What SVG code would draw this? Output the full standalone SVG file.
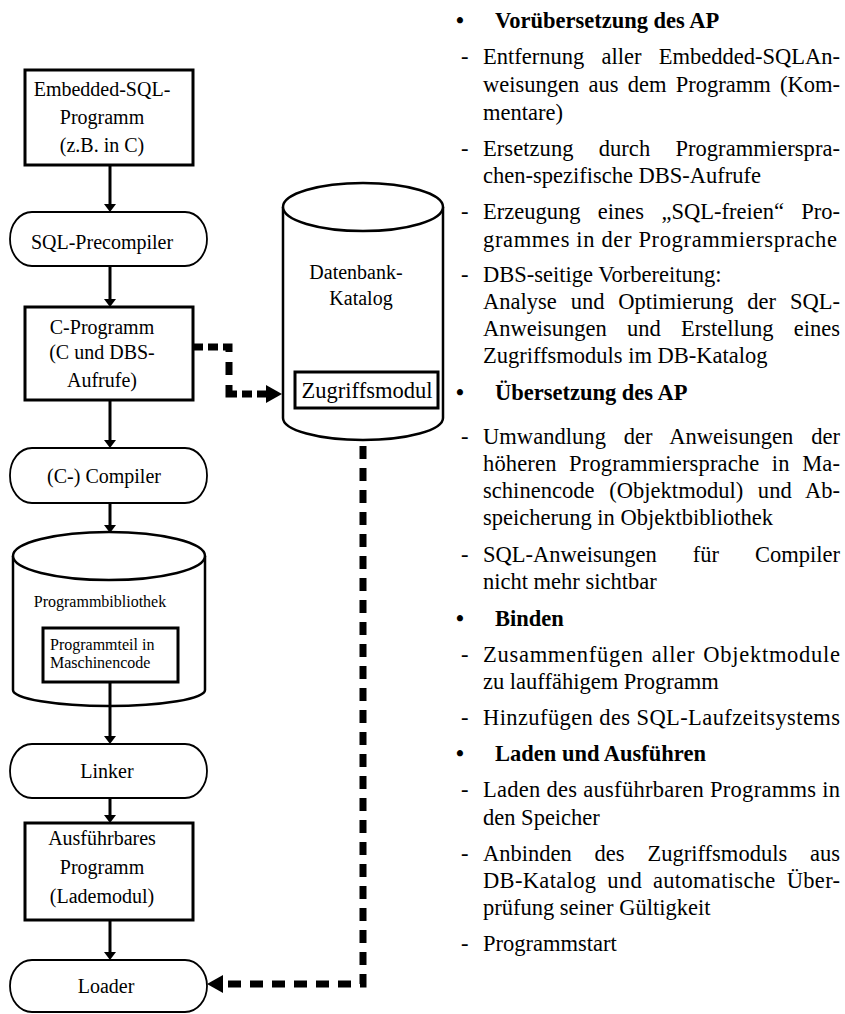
<svg xmlns="http://www.w3.org/2000/svg" width="845" height="1014" viewBox="0 0 845 1014">
  <style>
    text { font-family: "Liberation Serif", "Times New Roman", serif; fill: #000; }
    .lbl { font-size: 20px; text-anchor: middle; }
    .sm { font-size: 16px; }
    .box { fill: #fff; stroke: #000; stroke-width: 3; }
    .term { fill: #fff; stroke: #000; stroke-width: 1.8; }
    .cyl { fill: #fff; stroke: #000; stroke-width: 2.5; }
    .flow { fill: none; stroke: #000; stroke-width: 3; marker-end: url(#tip); }
    .dash { fill: none; stroke: #000; stroke-width: 7; marker-end: url(#tipBig); }
    .body { font-size: 22.5px; }
    .head { font-size: 22.5px; font-weight: bold; }
  </style>
  <defs>
    <marker id="tip" viewBox="0 0 8 12" refX="0" refY="6" markerWidth="8" markerHeight="12" orient="auto" markerUnits="userSpaceOnUse">
      <path d="M0,0 L8,6 L0,12 Z" fill="#000"/>
    </marker>
    <marker id="tipBig" viewBox="0 0 16 18" refX="0" refY="9" markerWidth="16" markerHeight="18" orient="auto" markerUnits="userSpaceOnUse">
      <path d="M0,0 L16,9 L0,18 Z" fill="#000"/>
    </marker>
  </defs>
  <rect width="845" height="1014" fill="#fff"/>

  <!-- processing chain -->
  <g id="n-embedded">
    <rect class="box" x="25" y="70" width="168" height="95"/>
    <text class="lbl" x="102" y="96">Embedded-SQL-</text>
    <text class="lbl" x="102" y="124">Programm</text>
    <text class="lbl" x="102" y="152">(z.B. in C)</text>
  </g>
  <g id="n-precompiler">
    <rect class="term" x="10" y="212" width="197" height="54" rx="22" ry="27"/>
    <text class="lbl" x="102" y="249">SQL-Precompiler</text>
  </g>
  <g id="n-cprogramm">
    <rect class="box" x="25" y="307" width="168" height="93"/>
    <text class="lbl" x="102" y="334">C-Programm</text>
    <text class="lbl" x="102" y="359">(C und DBS-</text>
    <text class="lbl" x="102" y="387">Aufrufe)</text>
  </g>
  <g id="n-compiler">
    <rect class="term" x="10" y="448" width="197" height="55" rx="22" ry="27"/>
    <text class="lbl" x="104" y="483">(C-) Compiler</text>
  </g>
  <g id="n-bibliothek">
    <path class="cyl" d="M13,556 V690 A96,16 0 0 0 205,690 V556"/>
    <ellipse class="cyl" cx="109" cy="556" rx="96" ry="24"/>
    <text class="sm" x="100" y="607" text-anchor="middle">Programmbibliothek</text>
    <rect class="box" x="43" y="628" width="135" height="54"/>
    <text class="sm" x="50" y="650">Programmteil in</text>
    <text class="sm" x="50" y="668">Maschinencode</text>
  </g>
  <g id="n-linker">
    <rect class="term" x="10" y="744" width="197" height="54" rx="22" ry="27"/>
    <text class="lbl" x="107" y="778">Linker</text>
  </g>
  <g id="n-lademodul">
    <rect class="box" x="25" y="823" width="168" height="97"/>
    <text class="lbl" x="102" y="845">Ausführbares</text>
    <text class="lbl" x="102" y="874">Programm</text>
    <text class="lbl" x="102" y="903">(Lademodul)</text>
  </g>
  <g id="n-loader">
    <rect class="term" x="10" y="960" width="197" height="52" rx="22" ry="26"/>
    <text class="lbl" x="106" y="993">Loader</text>
  </g>

  <!-- catalog store -->
  <g id="n-katalog">
    <path class="cyl" d="M283,207 V418 A80,22 0 0 0 443,418 V207"/>
    <ellipse class="cyl" cx="363" cy="207" rx="80" ry="24"/>
    <text class="lbl" x="356" y="279">Datenbank-</text>
    <text class="lbl" x="361" y="305">Katalog</text>
    <rect class="box" x="295" y="372" width="143" height="36"/>
    <text x="367" y="398" font-size="22.5" text-anchor="middle">Zugriffsmodul</text>
  </g>

  <g id="connectors">
    <path class="flow" d="M110,165 V204"/>
    <path class="flow" d="M110,266 V299"/>
    <path class="flow" d="M110,400 V440"/>
    <path class="flow" d="M110,503 V525"/>
    <path class="flow" d="M110,682 V736"/>
    <path class="flow" d="M110,798 V815"/>
    <path class="flow" d="M110,920 V952"/>
    <path class="dash" d="M193,347 H229 V394 H266" stroke-dasharray="10 5 10 5 11 10 13 10 17 5 10 5 10 5"/>
    <path class="dash" d="M363,446 V984 H223" stroke-dasharray="13 9"/>
  </g>

  <!-- explanatory notes -->
  <g id="notes">
    <text class="head" x="456" y="28">•</text>
    <text class="head" x="495" y="28">Vorübersetzung des AP</text>
    <text class="body" x="461" y="64">-</text>
    <text class="body" x="483" y="64" word-spacing="11.6" textLength="357" lengthAdjust="spacing">Entfernung aller Embedded-SQLAn-</text>
    <text class="body" x="483" y="92" word-spacing="3.6" textLength="357" lengthAdjust="spacing">weisungen aus dem Programm (Kom-</text>
    <text class="body" x="483" y="120">mentare)</text>
    <text class="body" x="461" y="156">-</text>
    <text class="body" x="483" y="156" word-spacing="19.5" textLength="357" lengthAdjust="spacing">Ersetzung durch Programmierspra-</text>
    <text class="body" x="483" y="183">chen-spezifische DBS-Aufrufe</text>
    <text class="body" x="461" y="219">-</text>
    <text class="body" x="483" y="219" word-spacing="11.7" textLength="357" lengthAdjust="spacing">Erzeugung eines „SQL-freien“ Pro-</text>
    <text class="body" x="483" y="247" textLength="354" lengthAdjust="spacing">grammes in der Programmiersprache</text>
    <text class="body" x="461" y="282">-</text>
    <text class="body" x="483" y="282">DBS-seitige Vorbereitung:</text>
    <text class="body" x="483" y="309" word-spacing="8.3" textLength="357" lengthAdjust="spacing">Analyse und Optimierung der SQL-</text>
    <text class="body" x="483" y="336" word-spacing="14.6" textLength="357" lengthAdjust="spacing">Anweisungen und Erstellung eines</text>
    <text class="body" x="483" y="363">Zugriffsmoduls im DB-Katalog</text>

    <text class="head" x="456" y="400">•</text>
    <text class="head" x="495" y="400">Übersetzung des AP</text>
    <text class="body" x="461" y="444">-</text>
    <text class="body" x="483" y="444" word-spacing="12.1" textLength="357" lengthAdjust="spacing">Umwandlung der Anweisungen der</text>
    <text class="body" x="483" y="471" word-spacing="6.7" textLength="357" lengthAdjust="spacing">höheren Programmiersprache in Ma-</text>
    <text class="body" x="483" y="498" word-spacing="8.8" textLength="357" lengthAdjust="spacing">schinencode (Objektmodul) und Ab-</text>
    <text class="body" x="483" y="525">speicherung in Objektbibliothek</text>
    <text class="body" x="461" y="562">-</text>
    <text class="body" x="483" y="562" word-spacing="30.4" textLength="357" lengthAdjust="spacing">SQL-Anweisungen für Compiler</text>
    <text class="body" x="483" y="589">nicht mehr sichtbar</text>

    <text class="head" x="456" y="626">•</text>
    <text class="head" x="495" y="626">Binden</text>
    <text class="body" x="461" y="662">-</text>
    <text class="body" x="483" y="662" word-spacing="1.7" textLength="357" lengthAdjust="spacing">Zusammenfügen aller Objektmodule</text>
    <text class="body" x="483" y="689">zu lauffähigem Programm</text>
    <text class="body" x="461" y="725">-</text>
    <text class="body" x="483" y="725" textLength="357" lengthAdjust="spacing">Hinzufügen des SQL-Laufzeitsystems</text>

    <text class="head" x="456" y="761">•</text>
    <text class="head" x="495" y="761">Laden und Ausführen</text>
    <text class="body" x="461" y="797">-</text>
    <text class="body" x="483" y="797" textLength="357" lengthAdjust="spacing">Laden des ausführbaren Programms in</text>
    <text class="body" x="483" y="825">den Speicher</text>
    <text class="body" x="461" y="861">-</text>
    <text class="body" x="483" y="861" word-spacing="17.1" textLength="357" lengthAdjust="spacing">Anbinden des Zugriffsmoduls aus</text>
    <text class="body" x="483" y="888" word-spacing="5" textLength="357" lengthAdjust="spacing">DB-Katalog und automatische Über-</text>
    <text class="body" x="483" y="915">prüfung seiner Gültigkeit</text>
    <text class="body" x="461" y="951">-</text>
    <text class="body" x="483" y="951">Programmstart</text>
  </g>
</svg>
